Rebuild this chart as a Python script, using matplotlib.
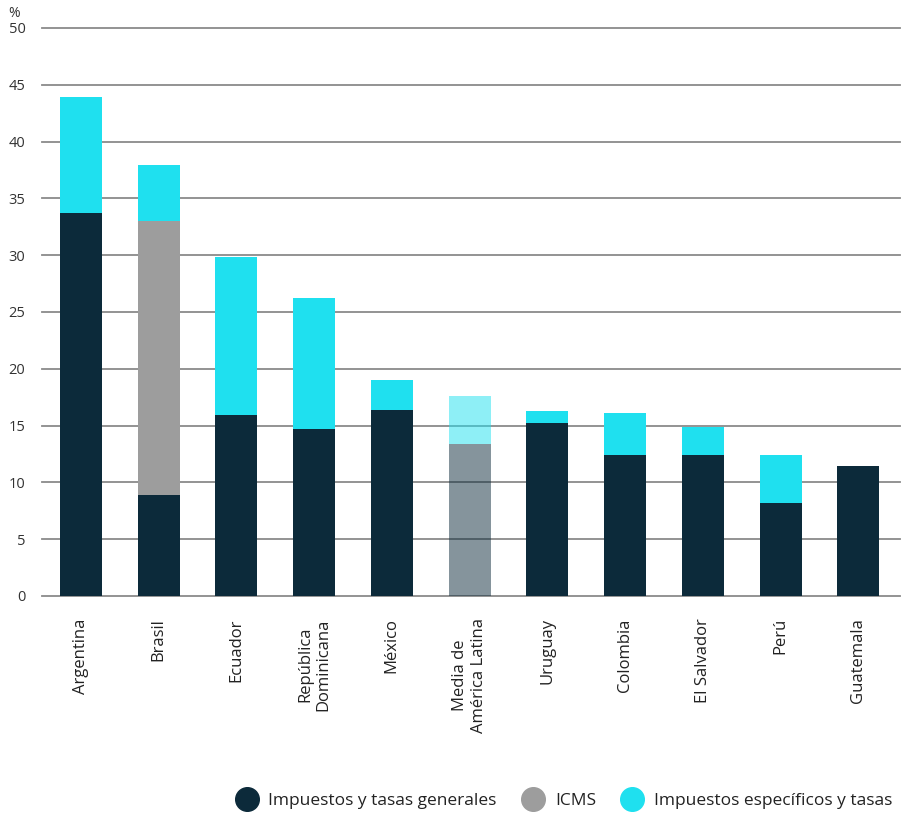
import matplotlib.pyplot as plt
from matplotlib.lines import Line2D
import numpy as np

plt.rcParams['font.family'] = ['Open Sans', 'DejaVu Sans']

paises = ['Argentina', 'Brasil', 'Ecuador', 'República\nDominicana', 'México',
          'Media de\nAmérica Latina', 'Uruguay', 'Colombia', 'El Salvador', 'Perú', 'Guatemala']
generales = [33.7, 8.9, 15.9, 14.7, 16.4, 13.4, 15.2, 12.4, 12.4, 8.2, 11.4]
icms = [0, 24.1, 0, 0, 0, 0, 0, 0, 0, 0, 0]
especificos = [10.2, 4.9, 13.9, 11.5, 2.6, 4.2, 1.1, 3.7, 2.5, 4.2, 0]
media_idx = 5

c_dark = '#0c2a3a'
c_gray = '#9d9d9d'
c_cyan = '#1fe0ef'

fig = plt.figure(figsize=(9.22, 8.13), dpi=100)
ax = fig.add_axes([0.0456, 0.267, 0.93, 0.6986])

x = np.arange(len(paises))
w = 0.54
alphas = [0.5 if i == media_idx else 1.0 for i in x]
gen = np.array(generales)
ic = np.array(icms)
esp = np.array(especificos)

for i in x:
    a = alphas[i]
    ax.bar(i, gen[i], w, color=c_dark, alpha=a, zorder=2)
    if ic[i] > 0:
        ax.bar(i, ic[i], w, bottom=gen[i], color=c_gray, alpha=a, zorder=2)
    if esp[i] > 0:
        ax.bar(i, esp[i], w, bottom=gen[i] + ic[i], color=c_cyan, alpha=a, zorder=2)

ax.set_ylim(0, 50)
ax.set_xlim(-0.5, 10.53)
ax.set_yticks(range(0, 51, 5))
ax.yaxis.grid(True, color='#8a8a8a', linewidth=1.3, clip_on=False)
ax.set_axisbelow(True)
for s in ax.spines.values():
    s.set_visible(False)
ax.tick_params(axis='y', length=0, pad=12, labelsize=10.5, labelcolor='#333333')
ax.set_xticks(x)
ax.set_xticklabels(paises, rotation=90, ha='center', va='top', fontsize=12,
                   color='#222222', multialignment='center')
ax.tick_params(axis='x', length=0, pad=16)
ax.text(-0.0255, 1.012, '%', transform=ax.transAxes, ha='right', va='bottom',
        fontsize=10, color='#333333')

handles = [Line2D([], [], marker='o', linestyle='', markersize=17, color=c)
           for c in (c_dark, c_gray, c_cyan)]
fig.legend(handles, ['Impuestos y tasas generales', 'ICMS', 'Impuestos específicos y tasas'],
           loc='lower right', bbox_to_anchor=(0.985, -0.014), ncol=3, frameon=False,
           fontsize=12.5, handletextpad=0.25, columnspacing=1.1, labelcolor='#222222')

fig.savefig('out.png', dpi=100)
